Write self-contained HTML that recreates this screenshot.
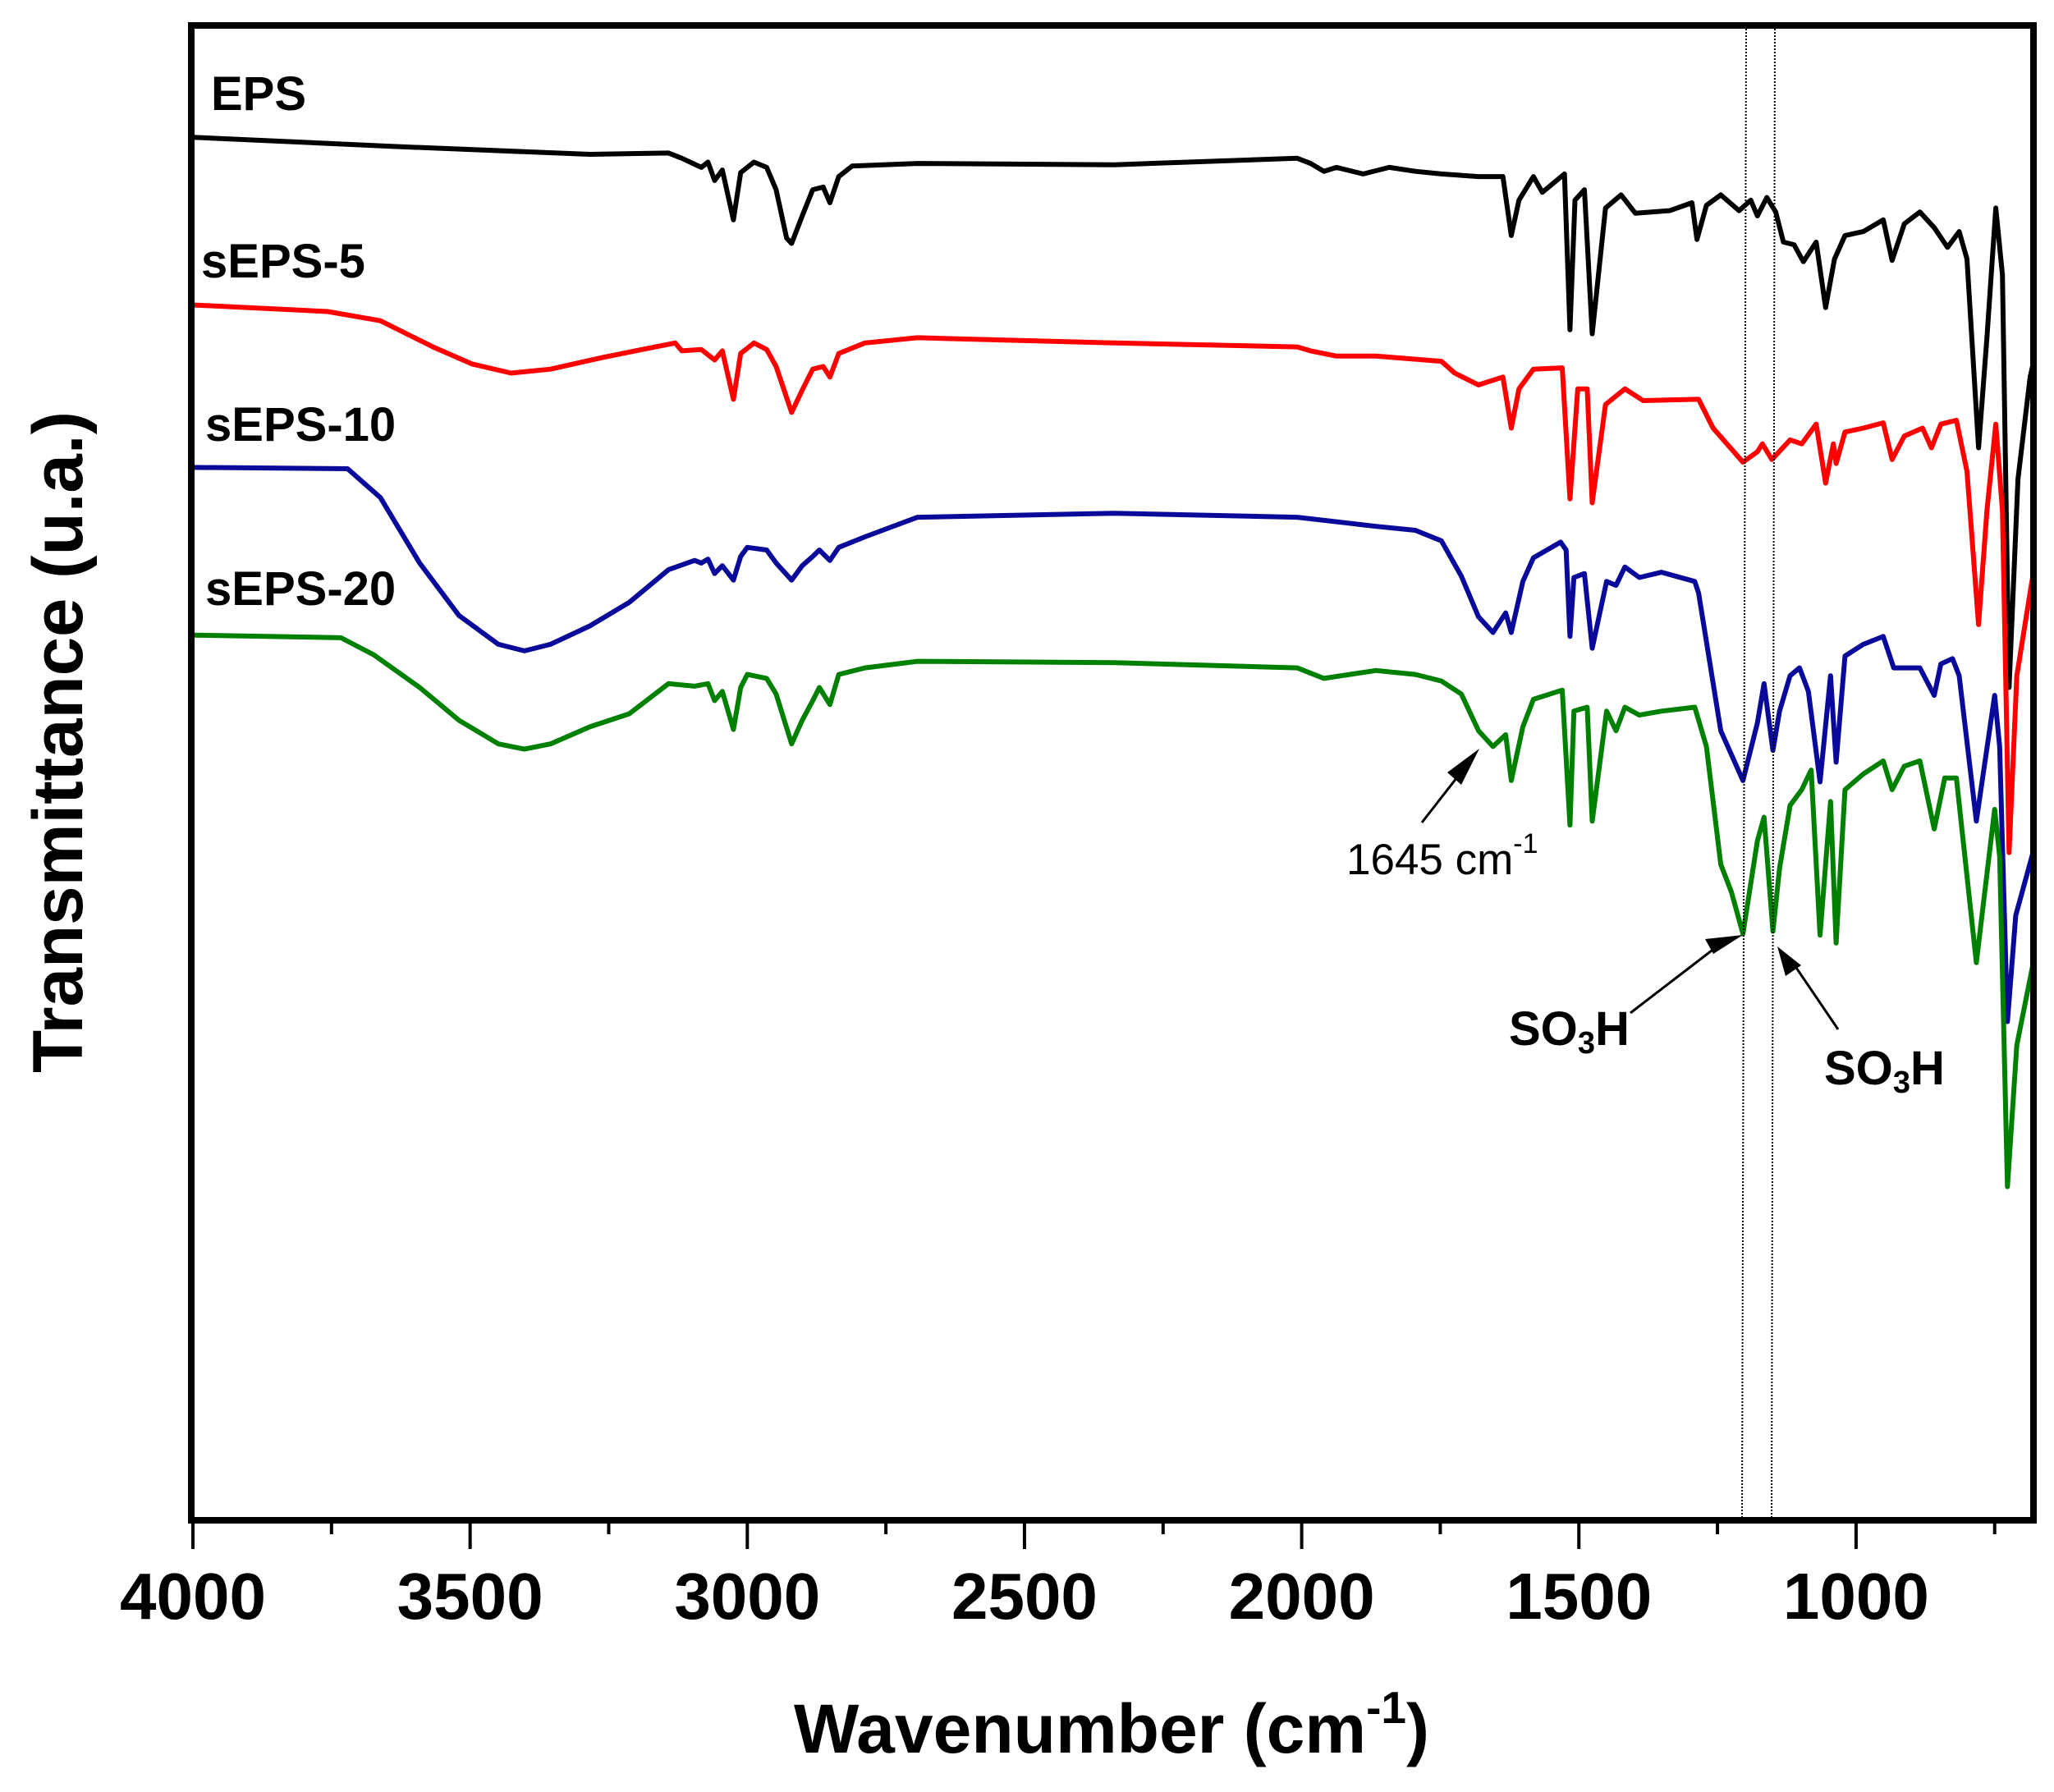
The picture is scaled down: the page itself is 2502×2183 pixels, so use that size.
<!DOCTYPE html>
<html><head><meta charset="utf-8"><style>
html,body{margin:0;padding:0;background:#fff;}
svg{display:block;}
text{font-family:"Liberation Sans",Arial,sans-serif;}
</style></head>
<body>
<svg id="chart" width="2502" height="2183" viewBox="0 0 2502 2183" xmlns="http://www.w3.org/2000/svg">
<rect x="0" y="0" width="2502" height="2183" fill="#fff"/>
<g id="series"></g>
<g id="annot">
  <line x1="2127" y1="31" x2="2122" y2="1852" stroke="#000" stroke-width="2" stroke-dasharray="2,2"/>
  <line x1="2162" y1="31" x2="2158" y2="1852" stroke="#000" stroke-width="2" stroke-dasharray="2,2"/>
  <line x1="1732" y1="1002" x2="1785" y2="934" stroke="#000" stroke-width="3"/>
  <polygon points="1802,912 1763,941 1780,956" fill="#000"/>
  <text x="1640" y="1065" font-size="53">1645 cm<tspan dy="-26" font-size="34">-1</tspan></text>
  <line x1="1986" y1="1234" x2="2098" y2="1148" stroke="#000" stroke-width="3"/>
  <polygon points="2123,1139 2077,1144 2087,1162" fill="#000"/>
  <text x="1838" y="1273" font-size="58" font-weight="bold">SO<tspan dy="10" font-size="38">3</tspan><tspan dy="-10">H</tspan></text>
  <line x1="2239" y1="1254" x2="2182" y2="1170" stroke="#000" stroke-width="3"/>
  <polygon points="2165,1153 2175,1189 2194,1176" fill="#000"/>
  <text x="2222" y="1321" font-size="58" font-weight="bold">SO<tspan dy="10" font-size="38">3</tspan><tspan dy="-10">H</tspan></text>
</g>
<rect x="233" y="31" width="2244" height="1821" fill="none" stroke="#000" stroke-width="8"/>
<g id="axis"></g>
<text x="1354" y="2135" font-size="84" font-weight="bold" text-anchor="middle">Wavenumber (cm<tspan dy="-36" font-size="55">-1</tspan><tspan dy="36">)</tspan></text>
<text transform="translate(100,904) rotate(-90)" font-size="86" font-weight="bold" text-anchor="middle" textLength="806" lengthAdjust="spacingAndGlyphs">Transmittance (u.a.)</text>
<text x="257" y="134" font-size="58" font-weight="bold">EPS</text>
<text x="245" y="338" font-size="58" font-weight="bold">sEPS-5</text>
<text x="250" y="537" font-size="58" font-weight="bold">sEPS-10</text>
<text x="250" y="737" font-size="58" font-weight="bold">sEPS-20</text>
</svg>
<script>
const xTicks = [4000,3500,3000,2500,2000,1500,1000];
const xMinorTicks = [3750,3250,2750,2250,1750,1250,750];
const epsWn = [4000,3638,3284,3142,3118,3083,3071,3059,3045,3025,3012,2988,2965,2948,2929,2920,2901,2882,2863,2851,2835,2811,2693,2338,2008,1984,1960,1937,1889,1842,1795,1748,1681,1637,1622,1608,1582,1566,1526,1516,1507,1490,1476,1452,1424,1398,1336,1296,1287,1270,1244,1211,1190,1178,1161,1145,1131,1112,1095,1072,1055,1039,1020,987,951,935,913,885,859,835,814,800,779,764,748,736,724,708,686,679];
const epsT = [1055,1048,1042,1043,1039,1032,1036,1022,1030,992,1028,1036,1032,1015,978,974,995,1015,1017,1005,1025,1033,1035,1034,1039,1035,1029,1032,1027,1032,1029,1027,1025,1025,980,1007,1025,1013,1027,908,1007,1015,905,1001,1011,997,999,1005,977,1003,1011,999,1007,995,1009,998,975,973,960,975,925,962,980,983,992,961,989,998,986,971,983,962,818,902,1001,950,635,794,872,885];
const s5Wn = [4000,3757,3662,3567,3497,3426,3355,3260,3166,3130,3118,3083,3059,3045,3025,3012,2988,2965,2948,2920,2901,2882,2863,2851,2835,2788,2693,2338,2008,1984,1937,1866,1748,1724,1681,1637,1622,1608,1582,1530,1516,1502,1485,1476,1452,1417,1384,1284,1258,1204,1178,1169,1152,1119,1098,1072,1055,1041,1036,1020,987,951,935,913,880,864,847,819,800,779,764,748,736,724,710,684,679];
const s5T = [927,922,915,895,882,875,878,887,895,898,892,893,885,892,855,890,898,893,880,845,862,878,880,872,890,898,902,898,895,892,888,888,884,875,866,872,833,863,878,879,779,863,863,776,851,863,854,855,833,807,815,821,809,824,821,836,791,821,806,830,833,837,809,827,833,818,836,839,800,683,770,836,770,509,644,713,725];
const s10Wn = [4000,3721,3662,3591,3520,3449,3402,3355,3284,3213,3142,3095,3083,3071,3059,3045,3025,3012,3000,2965,2948,2920,2901,2882,2870,2851,2835,2788,2693,2338,2008,1866,1795,1748,1712,1681,1655,1632,1622,1601,1582,1533,1523,1516,1509,1490,1476,1450,1433,1417,1391,1351,1291,1284,1244,1204,1178,1166,1150,1138,1119,1102,1086,1065,1046,1036,1020,987,951,932,885,859,847,826,814,783,750,741,727,712,679];
const s10T = [803,802,780,730,690,668,663,668,682,700,725,732,730,733,722,728,717,735,742,740,730,717,728,735,740,732,742,750,765,768,765,758,755,747,720,689,677,692,677,716,734,746,740,674,719,722,665,716,713,727,719,723,716,707,602,564,608,638,587,617,644,650,632,563,644,578,659,668,674,650,650,629,653,657,644,533,629,590,380,461,512];
const s20Wn = [4000,3733,3674,3591,3520,3449,3402,3355,3284,3213,3142,3095,3071,3059,3045,3025,3012,3000,2965,2948,2920,2901,2882,2870,2851,2835,2788,2693,2338,2008,1960,1866,1795,1748,1712,1681,1655,1632,1622,1601,1582,1530,1516,1509,1485,1476,1450,1433,1417,1391,1351,1291,1270,1244,1225,1204,1178,1166,1150,1138,1119,1098,1081,1065,1046,1036,1020,987,951,935,913,885,859,840,819,783,750,741,727,710,679];
const s20T = [675,673,660,635,610,592,588,592,605,615,638,636,638,625,632,603,635,645,642,630,592,610,625,635,622,645,650,655,654,650,642,648,645,640,630,602,590,599,564,605,626,633,530,617,620,533,617,602,620,614,617,620,590,500,479,447,518,536,449,497,545,557,572,446,548,440,557,569,579,557,575,579,527,566,566,425,542,506,254,362,428];

const NS = "http://www.w3.org/2000/svg";
function xScale(w){ return 235 + (4000 - w) * 0.6753; }
function yScale(v){ return 1851 - v * 1.596; }

const seriesG = document.getElementById('series');
function drawSeries(wn, t, color, name){
  let d = '';
  for (let i = 0; i < wn.length; i++) {
    d += (i ? 'L' : 'M') + xScale(wn[i]).toFixed(1) + ',' + yScale(t[i]).toFixed(1);
  }
  const p = document.createElementNS(NS, 'path');
  p.setAttribute('d', d);
  p.setAttribute('fill', 'none');
  p.setAttribute('stroke', color);
  p.setAttribute('stroke-width', '6');
  p.setAttribute('stroke-linejoin', 'round');
  
  
  seriesG.appendChild(p);
}
drawSeries(epsWn, epsT, '#000000', 'series-eps');
drawSeries(s5Wn, s5T, '#ff0000', 'series-seps-5');
drawSeries(s10Wn, s10T, '#0a0a9a', 'series-seps-10');
drawSeries(s20Wn, s20T, '#008000', 'series-seps-20');

const axisG = document.getElementById('axis');
xTicks.forEach(function(w){
  const x = xScale(w);
  const l = document.createElementNS(NS, 'line');
  l.setAttribute('x1', x); l.setAttribute('x2', x);
  l.setAttribute('y1', 1852); l.setAttribute('y2', 1887);
  l.setAttribute('stroke', '#000'); l.setAttribute('stroke-width', '4');
  
  
  axisG.appendChild(l);
  const t = document.createElementNS(NS, 'text');
  t.setAttribute('x', x); t.setAttribute('y', 1972);
  t.setAttribute('font-size', '80'); t.setAttribute('font-weight', 'bold');
  t.setAttribute('text-anchor', 'middle');
  t.textContent = String(w);
  
  
  axisG.appendChild(t);
});
xMinorTicks.forEach(function(w){
  const x = xScale(w);
  const l = document.createElementNS(NS, 'line');
  l.setAttribute('x1', x); l.setAttribute('x2', x);
  l.setAttribute('y1', 1852); l.setAttribute('y2', 1869);
  l.setAttribute('stroke', '#000'); l.setAttribute('stroke-width', '4');
  
  
  axisG.appendChild(l);
});
</script>
</body></html>
